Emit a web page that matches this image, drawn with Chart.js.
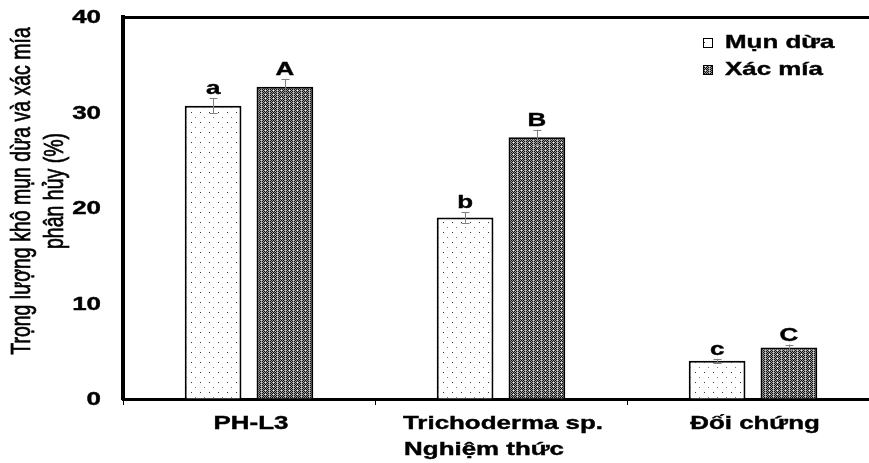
<!DOCTYPE html>
<html>
<head>
<meta charset="utf-8">
<script src="https://cdn.jsdelivr.net/npm/chart.js@4.4.0/dist/chart.umd.min.js"></script>
<style>
  html, body { margin: 0; padding: 0; background: #fff; overflow: hidden; }
  #wrap { width: 884px; height: 463px; }
</style>
</head>
<body>
<div id="wrap"><canvas id="chart" width="884" height="463"></canvas></div>
<script>
// data
const categories = ['PH-L3', 'Trichoderma sp.', 'Đối chứng'];
const seriesNames = ['Mụn dừa', 'Xác mía'];
const munDua = [30.7, 19.0, 4.0];
const xacMia = [32.7, 27.4, 5.4];
const munDuaErr = [0.8, 0.55, 0.2];
const xacMiaErr = [0.8, 0.8, 0.3];
const munDuaLetters = ['a', 'b', 'c'];
const xacMiaLetters = ['A', 'B', 'C'];
const yTicks = [0, 10, 20, 30, 40];

const FONT = '"Liberation Sans", Arial, sans-serif';
const BOLD = 'bold 18.5px ' + FONT;
const STRETCH = 1.4; // the source picture is stretched sideways

// white fill with sparse dots
function dotPattern() {
    const c = document.createElement('canvas');
    c.width = 9; c.height = 10;
    const g = c.getContext('2d');
    g.fillStyle = '#fff';
    g.fillRect(0, 0, 9, 10);
    g.fillStyle = '#333';
    g.fillRect(2, 2, 1, 1);
    g.fillStyle = '#777';
    g.fillRect(6, 7, 1, 1);
    return g.createPattern(c, 'repeat');
}

// dense dark speckled fill
function densePattern() {
    const c = document.createElement('canvas');
    c.width = 8; c.height = 8;
    const g = c.getContext('2d');
    for (let y = 0; y < 8; y++) {
        for (let x = 0; x < 8; x++) {
            let col = (x + y) % 2 ? '#111' : '#9a9a9a';
            if (y % 4 === 2 && x % 4 === 1) col = '#ffffff';
            if (x === 5 && y % 2 === 0) col = '#d0d0d0';
            g.fillStyle = col;
            g.fillRect(x, y, 1, 1);
        }
    }
    return g.createPattern(c, 'repeat');
}

function stretchedText(ctx, text, x, y, font, align, baseline, sx) {
    ctx.save();
    ctx.font = font;
    ctx.fillStyle = '#000';
    ctx.strokeStyle = '#000';
    ctx.lineWidth = 0.4;
    ctx.textAlign = align;
    ctx.textBaseline = baseline;
    ctx.translate(x, y);
    ctx.scale(sx || STRETCH, 1);
    ctx.fillText(text, 0, 0);
    ctx.strokeText(text, 0, 0);
    ctx.restore();
}

const fills = [dotPattern(), densePattern()];

// error bars, letters, tick labels, titles and legend
const decor = {
    id: 'decor',
    afterDatasetsDraw(chart) {
        const ctx = chart.ctx;
        const y = chart.scales.y;
        chart.data.datasets.forEach((ds, i) => {
            const meta = chart.getDatasetMeta(i);
            meta.data.forEach((bar, j) => {
                const top = y.getPixelForValue(ds.data[j] + ds.err[j]);
                const bot = y.getPixelForValue(ds.data[j] - ds.err[j]);
                const x = Math.round(bar.x) + 0.5;
                ctx.save();
                ctx.strokeStyle = '#808080';
                ctx.lineWidth = 1;
                ctx.beginPath();
                ctx.moveTo(x, top); ctx.lineTo(x, bot);
                ctx.moveTo(x - 4, Math.round(top) + 0.5); ctx.lineTo(x + 4, Math.round(top) + 0.5);
                ctx.moveTo(x - 4, Math.round(bot) + 0.5); ctx.lineTo(x + 4, Math.round(bot) + 0.5);
                ctx.stroke();
                ctx.restore();
                stretchedText(ctx, ds.letters[j], bar.x, top - 4, BOLD, 'center', 'alphabetic');
            });
        });
    },
    afterDraw(chart) {
        const ctx = chart.ctx;
        const x = chart.scales.x;
        const y = chart.scales.y;

        y.ticks.forEach((t, i) => {
            stretchedText(ctx, String(t.value), 101, y.getPixelForTick(i) + 1, BOLD, 'right', 'middle');
        });
        chart.data.labels.forEach((lab, i) => {
            stretchedText(ctx, lab, x.getPixelForTick(i) + 2, 424, BOLD, 'center', 'middle');
        });

        // x title
        stretchedText(ctx, 'Nghiệm thức', 484, 450, BOLD, 'center', 'middle');

        // y title, two lines
        ['Trọng lượng khô mụn dừa và xác mía', 'phân hủy (%)'].forEach((line, k) => {
            ctx.save();
            ctx.font = '19.5px ' + FONT;
            ctx.fillStyle = '#000';
            ctx.strokeStyle = '#000';
            ctx.lineWidth = 0.5;
            ctx.textAlign = 'center';
            ctx.textBaseline = 'middle';
            ctx.translate(k === 0 ? 22 : 55, 191);
            ctx.rotate(-Math.PI / 2);
            ctx.scale(1, 1.45);
            ctx.fillText(line, 0, 0);
            ctx.strokeText(line, 0, 0);
            ctx.restore();
        });

        // legend
        chart.data.datasets.forEach((ds, i) => {
            const by = 38 + i * 27;
            ctx.save();
            ctx.fillStyle = ds.backgroundColor;
            ctx.fillRect(703, by, 10, 10);
            ctx.strokeStyle = '#000';
            ctx.lineWidth = 1;
            ctx.strokeRect(703.5, by + 0.5, 9, 9);
            ctx.restore();
            stretchedText(ctx, ds.label, 725, by + 5, BOLD, 'left', 'middle');
        });
    }
};

new Chart(document.getElementById('chart').getContext('2d'), {
    type: 'bar',
    data: {
        labels: categories,
        datasets: [
            { label: seriesNames[0], data: munDua, err: munDuaErr, letters: munDuaLetters,
              backgroundColor: fills[0], borderColor: '#000', borderWidth: 2 },
            { label: seriesNames[1], data: xacMia, err: xacMiaErr, letters: xacMiaLetters,
              backgroundColor: fills[1], borderColor: '#000', borderWidth: 2 }
        ]
    },
    options: {
        responsive: false,
        animation: false,
        layout: { padding: { top: 17, right: 5, left: 0, bottom: 0 } },
        datasets: { bar: { categoryPercentage: 0.57, barPercentage: 0.79 } },
        plugins: {
            legend: { display: false },
            tooltip: { enabled: false }
        },
        scales: {
            x: {
                grid: { offset: true, drawOnChartArea: false, drawTicks: true, tickLength: 6, color: '#000', lineWidth: 1 },
                border: { color: '#000', width: 3 },
                ticks: { display: false },
                afterFit: s => { s.height = 64; }
            },
            y: {
                min: 0,
                max: 40,
                afterBuildTicks: s => { s.ticks = yTicks.map(v => ({ value: v })); },
                ticks: { display: false },
                grid: {
                    drawTicks: false,
                    color: c => (c.tick && c.tick.value === 40) ? '#000' : 'rgba(0,0,0,0)',
                    lineWidth: c => (c.tick && c.tick.value === 40) ? 3 : 1
                },
                border: { color: '#000', width: 4 },
                afterFit: s => { s.width = 123; }
            }
        }
    },
    plugins: [decor]
});
</script>
</body>
</html>
